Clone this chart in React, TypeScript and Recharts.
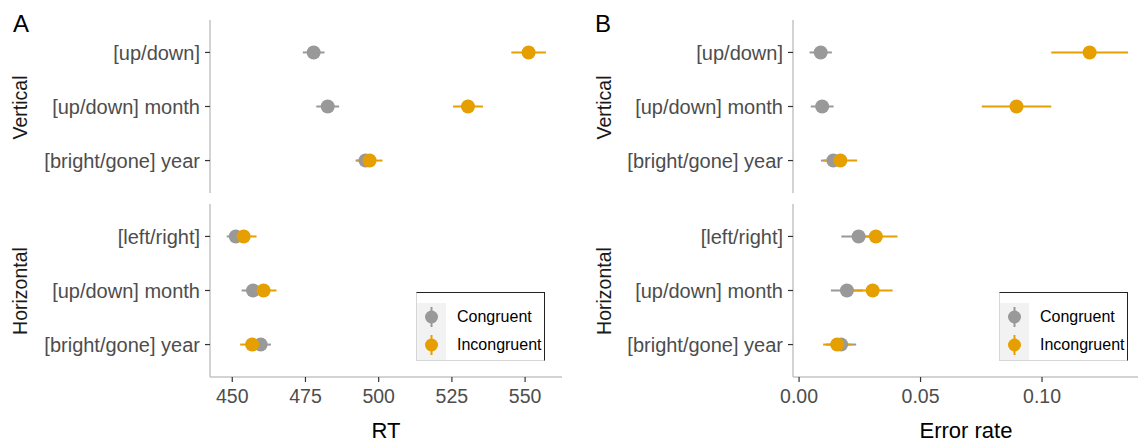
import { ScatterChart, Scatter, XAxis, YAxis, ErrorBar, Legend } from "recharts";

const FONT = "'Liberation Sans', Arial, sans-serif";
const GRAY = "#999999";
const ORANGE = "#E69F00";

const verticalRows = ["[up/down]", "[up/down] month", "[bright/gone] year"];
const horizontalRows = ["[left/right]", "[up/down] month", "[bright/gone] year"];
const seriesNames = ["Congruent", "Incongruent"];

const rtTicks = [450, 475, 500, 525, 550];
const errorRateTicks = [0, 0.05, 0.1];

// RT: means and half-widths of the intervals
const rtVertCongruent = [477.8, 482.6, 495.5];
const rtVertCongruentErr = [3.7, 3.9, 3.4];
const rtVertIncongruent = [551.2, 530.5, 496.9];
const rtVertIncongruentErr = [5.9, 5.1, 4.4];
const rtHorCongruent = [451.2, 457.1, 459.7];
const rtHorCongruentErr = [3.1, 3.9, 3.5];
const rtHorIncongruent = [453.9, 460.7, 456.8];
const rtHorIncongruentErr = [4.4, 4.4, 4.1];

// error rate
const erVertCongruent = [0.0089, 0.0095, 0.0141];
const erVertCongruentErr = [0.0046, 0.0047, 0.0051];
const erVertIncongruent = [0.1196, 0.0895, 0.017];
const erVertIncongruentErr = [0.0158, 0.0143, 0.0069];
const erHorCongruent = [0.0245, 0.0197, 0.0173];
const erHorCongruentErr = [0.0071, 0.0066, 0.0062];
const erHorIncongruent = [0.0316, 0.0303, 0.0157];
const erHorIncongruentErr = [0.0089, 0.0082, 0.0058];

const toPoints = (values: number[], errs: number[]) =>
  values.map((v, i) => ({ x: v, y: i, err: errs[i] }));

const LegendBox = () => (
  <div
    style={{
      width: 127,
      height: 67,
      border: "1px solid",
      borderColor: "#222 #222 #d6d6d6 #d6d6d6",
      background: "#fff",
      position: "relative",
      fontFamily: FONT,
    }}
  >
    <div style={{ position: "absolute", left: 0, top: 10, width: 29, height: 57, background: "#f2f2f2" }} />
    {seriesNames.map((name, i) => {
      const color = i === 0 ? GRAY : ORANGE;
      return (
        <div
          key={name}
          style={{ position: "absolute", left: 0, top: 10 + i * 28, height: 28, width: 127, display: "flex", alignItems: "center" }}
        >
          <svg width={29} height={28} style={{ display: "block" }}>
            <line x1={14.5} x2={14.5} y1={4} y2={24} stroke={color} strokeWidth={2} />
            <circle cx={14.5} cy={14} r={6.5} fill={color} />
          </svg>
          <span style={{ marginLeft: 11, fontSize: 16, color: "#000" }}>{name}</span>
        </div>
      );
    })}
  </div>
);

interface FacetProps {
  rows: string[];
  cong: number[];
  congErr: number[];
  incong: number[];
  incongErr: number[];
  domain: [number, number];
  ticks: number[];
  formatX: (v: number) => string;
  bottom: boolean;
  width: number;
  left: number;
  top: number;
}

function Facet(props: FacetProps) {
  const { rows, domain, ticks, bottom, width, left, top } = props;
  const congData = toPoints(props.cong, props.congErr);
  const incongData = toPoints(props.incong, props.incongErr);
  const height = bottom ? 261 : 200;
  const xTickStyle = { fill: "#4d4d4d", fontSize: 19.5, fontFamily: FONT };
  const yTickStyle = { fill: "#4d4d4d", fontSize: 20, fontFamily: FONT };
  return (
    <div style={{ position: "absolute", left, top }}>
      <ScatterChart
        width={width}
        height={height}
        margin={{ top: 20, right: width - 210 - (domain[1] > 1 ? 352 : 345), bottom: bottom ? 38 : 7, left: 0 }}
      >
        <XAxis
          type="number"
          dataKey="x"
          domain={domain}
          allowDataOverflow
          ticks={ticks}
          hide={!bottom}
          height={30}
          tickFormatter={props.formatX}
          tick={xTickStyle}
          tickSize={5}
          tickMargin={7}
          axisLine={{ stroke: "#c4c4c4", strokeWidth: 1.5 }}
          tickLine={{ stroke: "#333", strokeWidth: 1.2 }}
        />
        <YAxis
          type="number"
          dataKey="y"
          domain={[-0.6, 2.6]}
          reversed
          ticks={[0, 1, 2]}
          width={210}
          tickFormatter={(i: number) => rows[i] ?? ""}
          tick={yTickStyle}
          tickSize={5}
          tickMargin={5}
          axisLine={{ stroke: "#c4c4c4", strokeWidth: 1.5 }}
          tickLine={{ stroke: "#333", strokeWidth: 1.2 }}
        />
        <Scatter data={congData} isAnimationActive={false} shape={() => <g />}>
          <ErrorBar dataKey="err" direction="x" width={0} stroke={GRAY} strokeWidth={2} />
        </Scatter>
        <Scatter data={incongData} isAnimationActive={false} shape={() => <g />}>
          <ErrorBar dataKey="err" direction="x" width={0} stroke={ORANGE} strokeWidth={2} />
        </Scatter>
        <Scatter
          data={congData}
          isAnimationActive={false}
          shape={(p: any) => <circle cx={p.cx} cy={p.cy} r={7} fill={GRAY} />}
        />
        <Scatter
          data={incongData}
          isAnimationActive={false}
          shape={(p: any) => <circle cx={p.cx} cy={p.cy} r={7} fill={ORANGE} />}
        />
        {bottom && (
          <Legend
            layout="vertical"
            align="center"
            verticalAlign="middle"
            content={() => <LegendBox />}
            wrapperStyle={{ left: 416, top: 108, width: 129, height: 69 }}
          />
        )}
      </ScatterChart>
    </div>
  );
}

export default function App() {
  const rtDomain: [number, number] = [442.4, 562.6];
  const erDomain: [number, number] = [-0.0025, 0.1395];
  const fmtRT = (v: number) => String(v);
  const fmtER = (v: number) => v.toFixed(2);
  return (
    <div style={{ position: "absolute", left: 0, top: 0, width: 1140, height: 445, background: "#fff", fontFamily: FONT }}>
      <Facet rows={verticalRows} cong={rtVertCongruent} congErr={rtVertCongruentErr} incong={rtVertIncongruent} incongErr={rtVertIncongruentErr}
        domain={rtDomain} ticks={rtTicks} formatX={fmtRT} bottom={false} width={570} left={0} top={0} />
      <Facet rows={horizontalRows} cong={rtHorCongruent} congErr={rtHorCongruentErr} incong={rtHorIncongruent} incongErr={rtHorIncongruentErr}
        domain={rtDomain} ticks={rtTicks} formatX={fmtRT} bottom={true} width={570} left={0} top={184} />
      <Facet rows={verticalRows} cong={erVertCongruent} congErr={erVertCongruentErr} incong={erVertIncongruent} incongErr={erVertIncongruentErr}
        domain={erDomain} ticks={errorRateTicks} formatX={fmtER} bottom={false} width={557} left={583} top={0} />
      <Facet rows={horizontalRows} cong={erHorCongruent} congErr={erHorCongruentErr} incong={erHorIncongruent} incongErr={erHorIncongruentErr}
        domain={erDomain} ticks={errorRateTicks} formatX={fmtER} bottom={true} width={557} left={583} top={184} />
      <svg width={1140} height={445} style={{ position: "absolute", left: 0, top: 0, pointerEvents: "none" }} fontFamily={FONT}>
        <text x={13} y={32} fontSize={24} fill="#000">A</text>
        <text x={595} y={32} fontSize={24} fill="#000">B</text>
        <text x={27} y={107.5} fontSize={19.5} fill="#1a1a1a" textAnchor="middle" transform="rotate(-90 27 107.5)">Vertical</text>
        <text x={27} y={291} fontSize={19.5} fill="#1a1a1a" textAnchor="middle" transform="rotate(-90 27 291)">Horizontal</text>
        <text x={611} y={107.5} fontSize={19.5} fill="#1a1a1a" textAnchor="middle" transform="rotate(-90 611 107.5)">Vertical</text>
        <text x={611} y={291} fontSize={19.5} fill="#1a1a1a" textAnchor="middle" transform="rotate(-90 611 291)">Horizontal</text>
        <text x={386} y={438} fontSize={22} fill="#000" textAnchor="middle">RT</text>
        <text x={966} y={438} fontSize={22} fill="#000" textAnchor="middle">Error rate</text>
      </svg>
    </div>
  );
}
